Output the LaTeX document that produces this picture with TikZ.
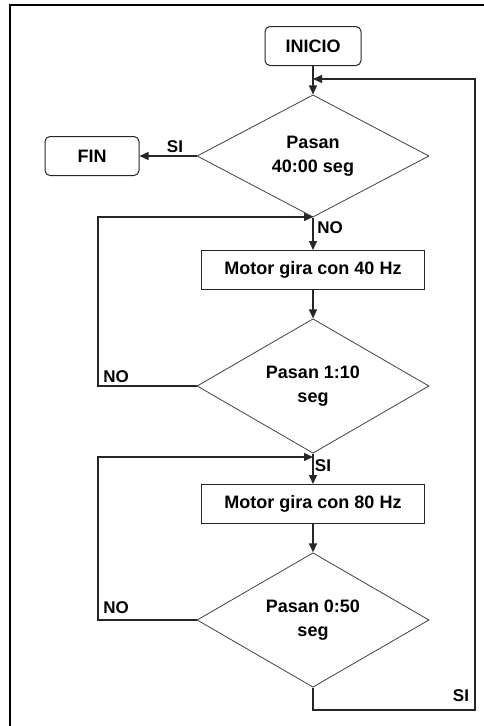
\documentclass[tikz,border=0pt]{standalone}
\usepackage{fontspec}
\setmainfont{Liberation Sans}
\usetikzlibrary{shapes.geometric,arrows.meta}
\begin{document}
\begin{tikzpicture}[x=1pt,y=-1pt,
  txt/.style={font=\bfseries\fontsize{18}{24}\selectfont, text=black},
  terminal/.style={txt, draw=black!85, line width=1pt, rounded corners=5pt,
    minimum height=39pt, inner sep=0pt},
  process/.style={txt, draw=black!85, line width=1pt, minimum width=223pt,
    minimum height=39pt, inner sep=0pt},
  decision/.style={txt, diamond, draw=black!75, line width=0.8pt,
    minimum width=232pt, minimum height=98pt, inner sep=0pt, align=center},
  flow/.style={draw=black!85, line width=1.3pt},
  arr/.style={flow, -{Triangle[length=9pt,width=8pt]}},
  lbl/.style={font=\bfseries\fontsize{17}{20}\selectfont, inner sep=0pt},
]
\useasboundingbox (0,0) rectangle (484,726);
\clip (0,0) rectangle (484,726);

% outer frame
\draw[line width=2.5pt] (10,760) -- (10,5) -- (520,5);

% blocks
\node[terminal, minimum width=96pt] (inicio) at (313,46) {INICIO};
\node[decision] (d1) at (313,156) {Pasan\\40:00 seg};
\node[terminal, minimum width=94pt] (fin) at (92,156) {FIN};
\node[process] (m1) at (313,270) {Motor gira con 40 Hz};
\node[decision] (d2) at (313,386) {Pasan 1:10\\seg};
\node[process] (m2) at (313,504) {Motor gira con 80 Hz};
\node[decision] (d3) at (313,620) {Pasan 0:50\\seg};

% routing points
\coordinate (top) at (313,79);
\coordinate (tr) at (475,79);
\coordinate (br) at (475,710);
\coordinate (j1) at (313,217);
\coordinate (n1) at (98,217);
\coordinate (j2) at (313,457);
\coordinate (n2) at (98,457);

% main flow
\draw[arr] (inicio) -- (d1);
\draw[arr] (d1.west) -- (fin.east);
\draw[arr] (d1) -- (m1);
\draw[arr] (m1) -- (d2);
\draw[arr] (d2) -- (m2);
\draw[arr] (m2) -- (d3);

% loops
\draw[arr] (d2.west) -- (d2.west -| n1) -- (n1) -- (j1);
\draw[arr] (d3.west) -- (d3.west -| n2) -- (n2) -- (j2);
\draw[arr] (d3.south) -- (d3.south |- br) -- (br) -- (tr) -- (top);

% branch labels
\node[lbl] (s1) at (175,147) {SI};
\node[lbl] (o1) at (330,228) {NO};
\node[lbl] (o2) at (116,377) {NO};
\node[lbl] (s2) at (323,466) {SI};
\node[lbl] (o3) at (116,608) {NO};
\node[lbl] (s3) at (461,696) {SI};
\end{tikzpicture}
\end{document}
